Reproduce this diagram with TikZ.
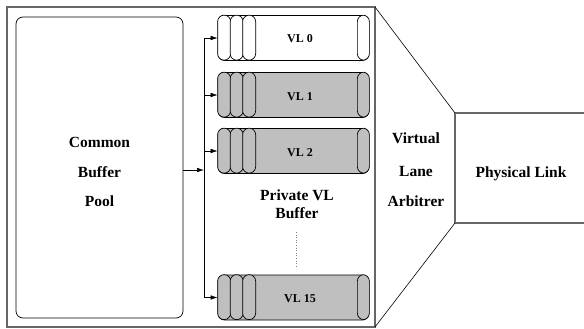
\documentclass[tikz,border=0pt]{standalone}
\usepackage{fontspec}
\setmainfont{Liberation Serif}
\usetikzlibrary{arrows.meta}

\begin{document}
\begin{tikzpicture}[x=1pt,y=-1pt,
  frame/.style={draw=black!60, line width=1.1pt},
  pool/.style={draw, line width=0.7pt, rounded corners=7pt, minimum width=167pt, minimum height=301pt, inner sep=0pt},
  vlbox/.style={draw, line width=0.7pt, rounded corners=6.5pt, minimum width=151pt, minimum height=45pt, inner sep=0pt},
  ring/.style={draw, line width=0.7pt, rounded corners=6.5pt},
  big/.style={font=\bfseries\fontsize{15.5}{29.5}\selectfont, align=center, inner sep=0pt},
  vltext/.style={font=\bfseries\fontsize{12}{14}\selectfont, inner sep=0pt, anchor=base},
  arr/.style={-{Latex[length=7pt,width=4.5pt]}, line width=0.6pt}]
\useasboundingbox (0,0) rectangle (584,329);

% switch frame and physical link
\draw[frame] (7,7) rectangle (375,327);
\draw[frame] (584,113) -- (455,113) -- (455,223) -- (584,223);
\draw[line width=0.6pt] (375,7) -- (455,113);
\draw[line width=0.6pt] (455,223) -- (375,327);

% common buffer pool
\node[pool] (pool) at (99.5,167.5) {};
\node[big] (pooltext) at (99.5,172) {Common\\Buffer\\Pool};

% private VL buffers
\node[vlbox, fill=white] (vl0) at (293.5,38) {};
\draw[ring, fill=white] (vl0.north west) rectangle ++(13,45);
\draw[ring, fill=white] ([xshift=12.5pt]vl0.north west) rectangle ++(13,45);
\draw[ring, fill=white] ([xshift=25pt]vl0.north west) rectangle ++(13,45);
\draw[ring, fill=white] ([xshift=-12pt]vl0.north east) rectangle ++(12,45);
\node[vltext] (vl0text) at (300,43) {VL 0};

\node[vlbox, fill=gray!50] (vl1) at (293.5,95) {};
\draw[ring, fill=gray!50] (vl1.north west) rectangle ++(13,45);
\draw[ring, fill=gray!50] ([xshift=12.5pt]vl1.north west) rectangle ++(13,45);
\draw[ring, fill=gray!50] ([xshift=25pt]vl1.north west) rectangle ++(13,45);
\draw[ring, fill=gray!50] ([xshift=-12pt]vl1.north east) rectangle ++(12,45);
\node[vltext] (vl1text) at (300,100) {VL 1};

\node[vlbox, fill=gray!50] (vl2) at (293.5,151) {};
\draw[ring, fill=gray!50] (vl2.north west) rectangle ++(13,45);
\draw[ring, fill=gray!50] ([xshift=12.5pt]vl2.north west) rectangle ++(13,45);
\draw[ring, fill=gray!50] ([xshift=25pt]vl2.north west) rectangle ++(13,45);
\draw[ring, fill=gray!50] ([xshift=-12pt]vl2.north east) rectangle ++(12,45);
\node[vltext] (vl2text) at (300,156) {VL 2};

\node[vlbox, fill=gray!50] (vl15) at (293.5,297.5) {};
\draw[ring, fill=gray!50] (vl15.north west) rectangle ++(13,45);
\draw[ring, fill=gray!50] ([xshift=12.5pt]vl15.north west) rectangle ++(13,45);
\draw[ring, fill=gray!50] ([xshift=25pt]vl15.north west) rectangle ++(13,45);
\draw[ring, fill=gray!50] ([xshift=-12pt]vl15.north east) rectangle ++(12,45);
\node[vltext] (vl15text) at (300,302.5) {VL 15};

\node[big, font=\bfseries\fontsize{15.5}{17.5}\selectfont] (priv) at (297,204) {Private VL\\Buffer};
\draw[gray, dotted, line width=0.6pt] (296,232) -- (296,266);

% arrows from the pool
\coordinate (split) at (204,170);
\draw[arr] (pool.east |- split) -- (split);
\draw[line width=0.6pt] (split |- vl0.west) -- (split |- vl15.west);
\draw[arr] (split |- vl0.west) -- (vl0.west);
\draw[arr] (split |- vl1.west) -- (vl1.west);
\draw[arr] (split |- vl2.west) -- (vl2.west);
\draw[arr] (split |- vl15.west) -- (vl15.west);

% arbiter and link
\node[big] (arb) at (416,169.5) {Virtual\\[3.5pt]Lane\\Arbitrer};
\node[big, anchor=base] (link) at (521,177.3) {Physical Link};

\end{tikzpicture}
\end{document}
